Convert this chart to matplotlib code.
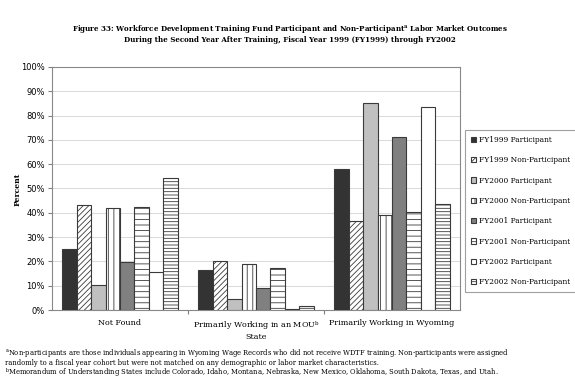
import numpy as np
import matplotlib
matplotlib.use("Agg")
import matplotlib.pyplot as plt

plt.rcParams['font.family'] = ['DejaVu Serif']
plt.rcParams['mathtext.fontset'] = 'dejavuserif'
plt.rcParams['hatch.linewidth'] = 0.6

# 分类与数据（百分比）
categories = ["Not Found", "Primarily Working in an MOU$^{\\mathrm{b}}$\nState",
              "Primarily Working in Wyoming"]
series_names = ["FY1999 Participant", "FY1999 Non-Participant",
                "FY2000 Participant", "FY2000 Non-Participant",
                "FY2001 Participant", "FY2001 Non-Participant",
                "FY2002 Participant", "FY2002 Non-Participant"]
fy1999_p = [25.2, 16.5, 58.0]
fy1999_np = [43.3, 20.2, 36.5]
fy2000_p = [10.2, 4.5, 85.0]
fy2000_np = [41.8, 18.8, 39.2]
fy2001_p = [19.6, 9.2, 71.0]
fy2001_np = [42.5, 17.2, 40.3]
fy2002_p = [15.7, 0.5, 83.5]
fy2002_np = [54.5, 1.6, 43.5]
all_series = [fy1999_p, fy1999_np, fy2000_p, fy2000_np,
              fy2001_p, fy2001_np, fy2002_p, fy2002_np]
yticks = [0, 10, 20, 30, 40, 50, 60, 70, 80, 90, 100]

# 样式
faces = ["#333333", "white", "#c0c0c0", "white", "#808080", "white", "white", "white"]
hatches = [None, "//////", None, "|||", None, "---", None, "-----"]

fig = plt.figure(figsize=(5.75, 3.91), dpi=100)
ax = fig.add_axes([0.0904, 0.207, 0.7096, 0.622])

x = np.arange(len(categories))
w = 0.106
for i, vals in enumerate(all_series):
    pos = x + (i - 3.5) * w
    ax.bar(pos, vals, width=w, color=faces[i], edgecolor="#3a3a3a",
           hatch=hatches[i], linewidth=0.8, label=series_names[i], zorder=3)

ax.set_xlim(-0.5, 2.5)
ax.set_ylim(0, 100)
ax.set_yticks(yticks)
ax.set_yticklabels(["%d%%" % v for v in yticks], fontsize=6, family="DejaVu Sans")
ax.yaxis.grid(True, color="#d9d9d9", linewidth=0.7, zorder=0)
ax.set_xticks([0.5, 1.5])
ax.set_xticklabels([])
ax.tick_params(axis="x", length=3, color="#808080")
ax.tick_params(axis="y", length=3, color="#808080", pad=2)
for s in ax.spines.values():
    s.set_color("#888888")
    s.set_linewidth(0.8)
for i, c in enumerate(categories):
    ax.text(x[i], -3.5, c, ha="center", va="top", fontsize=5.8, linespacing=1.2)

fig.text(0.031, 0.515, "Percent", rotation=90, ha="center", va="center",
         fontsize=5.5, fontweight="bold")

leg = fig.legend(loc="upper left", bbox_to_anchor=(0.809, 0.668), fontsize=5.4,
                 frameon=True, fancybox=False, edgecolor="#888888",
                 handlelength=0.7, handleheight=0.7, handletextpad=0.3,
                 labelspacing=1.65, borderpad=0.8, borderaxespad=0)
leg.get_frame().set_linewidth(0.8)

fig.text(0.505, 0.926,
         "Figure 33: Workforce Development Training Fund Participant and Non-Participant$^{\\mathbf{a}}$ Labor Market Outcomes",
         ha="center", va="center", fontsize=5.1, fontweight="bold")
fig.text(0.505, 0.898,
         "During the Second Year After Training, Fiscal Year 1999 (FY1999) through FY2002",
         ha="center", va="center", fontsize=5.1, fontweight="bold")

fig.text(0.008, 0.097,
         "$^{\\mathrm{a}}$Non-participants are those individuals appearing in Wyoming Wage Records who did not receive WDTF training. Non-participants were assigned",
         fontsize=4.85, va="center")
fig.text(0.008, 0.071,
         "randomly to a fiscal year cohort but were not matched on any demographic or labor market characteristics.",
         fontsize=4.85, va="center")
fig.text(0.008, 0.047,
         "$^{\\mathrm{b}}$Memorandum of Understanding States include Colorado, Idaho, Montana, Nebraska, New Mexico, Oklahoma, South Dakota, Texas, and Utah.",
         fontsize=4.85, va="center")

fig.savefig("out.png", dpi=100)
